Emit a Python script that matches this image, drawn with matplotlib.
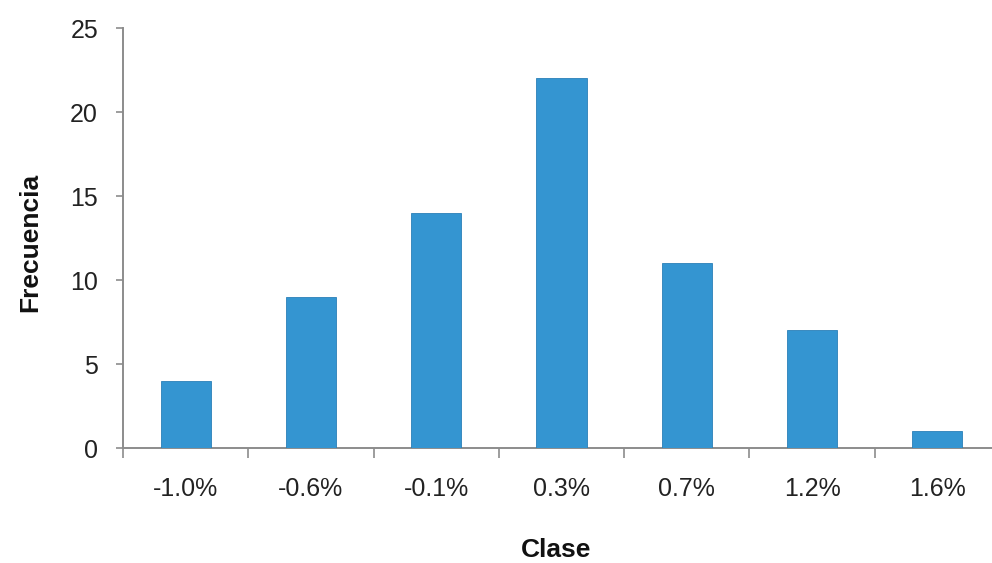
import matplotlib
matplotlib.use("Agg")
import matplotlib.pyplot as plt
import numpy as np

plt.rcParams['font.family'] = ['Liberation Sans', 'DejaVu Sans']

# histogram classes and their counts
clases = ['-1.0%', '-0.6%', '-0.1%', '0.3%', '0.7%', '1.2%', '1.6%']
frecuencia = [4, 9, 14, 22, 11, 7, 1]

bar_color = '#3495d1'
axis_color = '#8c8c8c'

fig = plt.figure(figsize=(9.92, 5.63), dpi=100)
# axes run slightly past the right edge of the figure
ax = fig.add_axes([123 / 992, 115 / 563, 877 / 992, 420 / 563])

x = np.arange(len(clases))
ax.bar(x, frecuencia, width=0.4, color=bar_color, edgecolor='#2a80b8', linewidth=0.6, zorder=3)

ax.set_xlim(-0.5, len(clases) - 0.5)
ax.set_ylim(0, 25)
ax.set_yticks(np.arange(0, 26, 5))

# category labels at bar centres, tick marks at the class boundaries
ax.set_xticks(x)
ax.set_xticklabels(clases)
ax.set_xticks(np.arange(-0.5, len(clases), 1.0), minor=True)
ax.tick_params(axis='x', which='major', length=0, pad=21, labelsize=18, labelcolor='#222222')
ax.tick_params(axis='x', which='minor', length=7, width=1.2, color=axis_color, direction='out')
ax.tick_params(axis='y', which='major', length=5, width=1.2, color=axis_color, pad=13,
               labelsize=18, labelcolor='#222222')

for side in ('top', 'right'):
    ax.spines[side].set_visible(False)
for side in ('left', 'bottom'):
    ax.spines[side].set_color(axis_color)
    ax.spines[side].set_linewidth(1.4)

fig.text(30 / 992, 1 - 242 / 563, 'Frecuencia', rotation=90, ha='center', va='center',
         fontsize=19, fontweight='bold', color='#111111')
fig.text(556 / 992, 1 - 550 / 563, 'Clase', ha='center', va='center',
         fontsize=19, fontweight='bold', color='#111111')

fig.savefig('out.png', dpi=100)
